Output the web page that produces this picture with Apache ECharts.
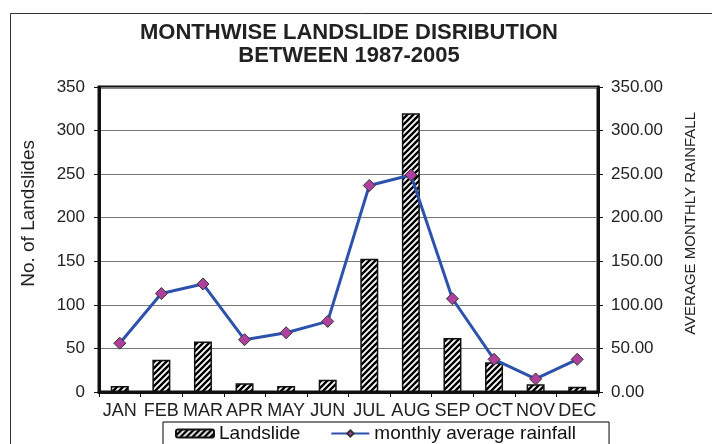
<!DOCTYPE html>
<html>
<head>
<meta charset="utf-8">
<script src="https://cdn.jsdelivr.net/npm/echarts@6/dist/echarts.min.js"></script>
<style>
  html, body { margin: 0; padding: 0; background: #fff; }
  #chart { width: 712px; height: 444px; }
</style>
</head>
<body>
<div id="chart"></div>
<script>
// data
var months = ['JAN', 'FEB', 'MAR', 'APR', 'MAY', 'JUN', 'JUL', 'AUG', 'SEP', 'OCT', 'NOV', 'DEC'];
var landslides = [7, 37, 58, 10, 7, 14, 153, 320, 62, 34, 9, 6];
var rainfall = [56, 113, 124, 60, 68, 81, 237, 249, 107, 37.5, 15, 37.5];
var leftTicks = [0, 50, 100, 150, 200, 250, 300, 350];

var font = 'Liberation Sans, Arial, sans-serif';

// diagonal hatch for the bars
function hatch() {
  var c = document.createElement('canvas');
  c.width = 6; c.height = 6;
  var g = c.getContext('2d');
  g.fillStyle = '#fff';
  g.fillRect(0, 0, 6, 6);
  g.strokeStyle = '#000';
  g.lineWidth = 2.4;
  g.beginPath();
  g.moveTo(-1, 7); g.lineTo(7, -1);
  g.moveTo(-4, 4); g.lineTo(4, -4);
  g.moveTo(2, 10); g.lineTo(10, 2);
  g.stroke();
  return { image: c, repeat: 'repeat' };
}

var chart = echarts.init(document.getElementById('chart'));
chart.setOption({
  animation: false,
  textStyle: { fontFamily: font },
  title: {
    text: 'MONTHWISE LANDSLIDE DISRIBUTION\nBETWEEN 1987-2005',
    left: 344, top: 16, textAlign: 'center',
    textStyle: { fontSize: 22, fontWeight: 'bold', color: '#222', lineHeight: 23, fontFamily: font }
  },
  graphic: [
    { type: 'rect', left: 8, top: 11, shape: { width: 720, height: 450 },
      style: { fill: 'none', stroke: '#333', lineWidth: 1 }, silent: true },
    { type: 'text', left: 19, top: 140, rotation: Math.PI / 2,
      style: { text: 'No. of Landslides', fontSize: 19, fill: '#222', fontFamily: font } },
    { type: 'text', left: 683, top: 112, rotation: Math.PI / 2,
      style: { text: 'AVERAGE MONTHLY RAINFALL', fontSize: 15, fill: '#222', fontFamily: font } }
  ],
  legend: {
    left: 163, top: 422,
    padding: [2, 33, 3, 12],
    itemGap: 30,
    itemWidth: 38, itemHeight: 8,
    borderColor: '#000', borderWidth: 1, borderRadius: 0,
    textStyle: { fontSize: 19, color: '#111', fontFamily: font },
    data: ['Landslide', 'monthly average rainfall']
  },
  grid: {
    left: 99, right: 114, top: 87, bottom: 52,
    show: true, borderColor: '#111', borderWidth: 3, backgroundColor: '#fff'
  },
  xAxis: {
    type: 'category',
    data: months,
    axisLine: { lineStyle: { color: '#111', width: 3 } },
    axisTick: { show: true, length: 5, lineStyle: { color: '#111', width: 1 } },
    axisLabel: { fontSize: 18, color: '#222', margin: 10, interval: 0 }
  },
  yAxis: [
    {
      type: 'value', min: leftTicks[0], max: leftTicks[leftTicks.length - 1], interval: 50,
      axisLine: { show: true, lineStyle: { color: '#111', width: 3 } },
      axisTick: { show: true, length: 5, lineStyle: { color: '#111' } },
      axisLabel: { fontSize: 17, color: '#222', margin: 14 },
      splitLine: { lineStyle: { color: '#777', width: 1 } }
    },
    {
      type: 'value', min: 0, max: 350, interval: 50, position: 'right',
      axisLine: { show: true, lineStyle: { color: '#111', width: 3 } },
      axisTick: { show: true, length: 5, lineStyle: { color: '#111' } },
      axisLabel: { fontSize: 17, color: '#222', margin: 13,
        formatter: function (v) { return v.toFixed(2); } },
      splitLine: { show: false }
    }
  ],
  series: [
    {
      name: 'Landslide', type: 'bar', data: landslides, barWidth: 18,
      itemStyle: { color: hatch(), borderColor: '#111', borderWidth: 1.5 }
    },
    {
      name: 'monthly average rainfall', type: 'line', yAxisIndex: 1, data: rainfall,
      symbol: 'diamond', symbolSize: 12,
      lineStyle: { color: '#2d52ab', width: 3 },
      itemStyle: { color: '#b0409e', borderColor: '#333', borderWidth: 1 }
    }
  ]
});
</script>
</body>
</html>
